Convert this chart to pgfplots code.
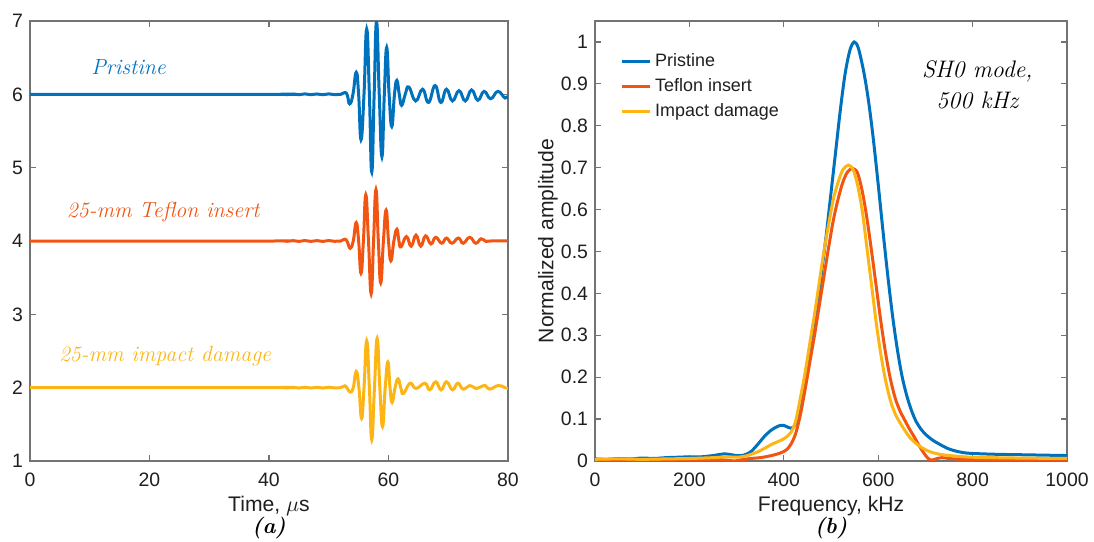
\documentclass[border=0pt]{standalone}
\usepackage{fontspec}
\usepackage{pgfplots}
\pgfplotsset{compat=1.18}
\newfontfamily\arial{Liberation Sans}
\definecolor{cB}{HTML}{0072BD}
\definecolor{cO}{HTML}{F25511}
\definecolor{cY}{HTML}{FDB515}
\definecolor{axg}{gray}{0.45}
\definecolor{tkc}{gray}{0.12}
\pgfplotsset{mstyle/.style={
  scale only axis,
  axis line style={axg, line width=0.6bp},
  tick style={axg, line width=0.6bp},
  tick align=inside, major tick length=3bp,
  ticklabel style={font=\arial\fontsize{9.75}{11}\selectfont, text=tkc},
  xticklabel style={yshift=-2.5bp},
  /pgf/number format/assume math mode=true,
  /pgf/number format/1000 sep={},
  label style={font=\arial\fontsize{10.6}{12}\selectfont, text=tkc},
}}
\begin{document}
\begin{tikzpicture}
\useasboundingbox (0,0) rectangle (547bp,271bp);
% ---------------- (a) ----------------
\begin{axis}[mstyle, name=L, at={(15bp,40.5bp)}, anchor=south west,
  width=239bp, height=220bp, xmin=0, xmax=80, ymin=1, ymax=7,
  xtick={0,20,40,60,80}, ytick={1,2,3,4,5,6,7},
  every axis plot/.append style={line width=1.5bp, smooth, tension=0.8},
  xlabel={Time, $\mu$s},
  xlabel style={at={(axis description cs:0.5,-0.103)}, anchor=center, inner sep=0pt}]
\addplot[cB] coordinates {
(0,6) (40,6) (42,6.003) (43,5.996) (44,6.005) (45,5.995) (46,6.006) (47,5.995)
(48,6.005) (49,5.995) (50,6.006) (51,5.996) (52.0,6.0) (52.7,6.025) (53.1,5.99)
(53.5,5.87) (54.05,6.0) (54.6,6.30) (55.0,6.0) (55.4,5.38) (55.9,6.0) (56.35,6.89)
(56.8,6.0) (57.2,4.94) (57.6,6.0) (58.0,6.99) (58.45,6.0) (58.9,5.15) (59.3,6.0)
(59.7,6.64) (60.1,6.0) (60.55,5.56) (61.0,6.0) (61.4,6.19) (61.8,6.0) (62.2,5.85)
(62.8,6.0) (63.4,6.10) (64.55,5.91) (65.7,6.07) (66.7,5.89) (67.8,6.12) (68.75,5.89)
(69.7,6.07) (70.7,5.91) (71.8,6.05) (72.85,5.91) (73.9,6.06) (74.95,5.92) (76.0,6.04)
(77.1,5.94) (78.3,6.04) (79.5,5.95) (80,5.98)};
\addplot[cO] coordinates {
(0,4) (40,4) (42,4.003) (43,3.996) (44,4.005) (45,3.995) (46,4.006) (47,3.995)
(48,4.005) (49,3.995) (50,4.006) (51,3.996) (52,4.0) (52.7,4.025) (53.1,3.99)
(53.6,3.90) (54.1,4.0) (54.6,4.25) (55.0,4.0) (55.4,3.56) (55.8,4.0) (56.2,4.63)
(56.65,4.0) (57.1,3.28) (57.5,4.0) (57.9,4.70) (58.3,4.0) (58.7,3.43) (59.15,4.0)
(59.6,4.42) (60.0,4.0) (60.4,3.73) (60.9,4.0) (61.4,4.16) (61.75,4.0) (62.1,3.92)
(63.0,4.06) (63.8,3.93) (64.6,4.08) (65.4,3.93) (66.2,4.07) (67.1,3.96) (67.9,4.05)
(68.9,3.97) (69.7,4.04) (70.6,3.97) (71.7,4.04) (72.5,3.97) (73.6,4.05) (74.6,3.97)
(75.5,4.03) (76.3,3.995) (77,4.0) (80,4.0)};
\addplot[cY] coordinates {
(0,2) (40,2) (42,2.003) (43,1.996) (44,2.005) (45,1.995) (46,2.006) (47,1.995)
(48,2.005) (49,1.995) (50,2.006) (51,1.996) (52,2.0) (52.7,2.025) (53.1,1.99)
(53.6,1.94) (54.1,2.0) (54.6,2.22) (55.05,2.0) (55.5,1.58) (55.9,2.0) (56.35,2.64)
(56.8,2.0) (57.2,1.29) (57.65,2.0) (58.1,2.67) (58.55,2.0) (59.0,1.47) (59.45,2.0)
(59.9,2.35) (60.25,2.0) (60.6,1.80) (61.1,2.0) (61.6,2.12) (62.05,2.0) (62.5,1.92)
(63.6,2.06) (64.6,1.99) (66.1,2.06) (66.9,1.97) (67.9,2.08) (68.8,1.97) (69.7,2.08)
(70.7,1.97) (71.6,2.06) (72.5,1.98) (73.6,2.03) (74.6,1.99) (75.4,2.01) (76.2,2.03)
(76.9,1.98) (78.4,2.03) (79.5,2.0) (80,1.99)};
\node[text=cB, font=\fontsize{11}{13}\selectfont\itshape] at (axis cs:16.5,6.37) {Pristine};
\node[text=cO, font=\fontsize{11}{13}\selectfont\itshape] at (axis cs:22.3,4.40) {25-mm Teflon insert};
\node[text=cY, font=\fontsize{11}{13}\selectfont\itshape] at (axis cs:22.6,2.43) {25-mm impact damage};
\end{axis}
\node[font=\fontsize{11}{13}\selectfont\bfseries\itshape, inner sep=0pt] at ([yshift=-33.5bp]L.south) {(a)};
% ---------------- (b) ----------------
\begin{axis}[mstyle, name=R, at={(297.5bp,40.5bp)}, anchor=south west,
  width=236bp, height=220bp, xmin=0, xmax=1000, ymin=0, ymax=1.05,
  xtick={0,200,400,600,800,1000},
  ytick={0,0.1,0.2,0.3,0.4,0.5,0.6,0.7,0.8,0.9,1},
  every axis plot/.append style={line width=1.5bp, smooth, tension=0.5},
  xlabel={Frequency, kHz}, ylabel={Normalized amplitude},
  xlabel style={at={(axis description cs:0.5,-0.103)}, anchor=center, inner sep=0pt},
  ylabel style={at={(axis description cs:-0.0996,0.5)}, anchor=center},
  legend cell align=left,
  legend style={draw=none, fill=none, at={(0.04,0.945)}, anchor=north west,
    font=\arial\fontsize{9}{10.8}\selectfont, text=tkc, row sep=0.5bp},
  legend image code/.code={\draw[#1, line width=1.5bp] (0bp,0bp) -- (14bp,0bp);}]
\addplot[cB] coordinates {
(0,0.005) (25,0.004) (50,0.006) (75,0.005) (100,0.007) (125,0.006) (150,0.008)
(175,0.009) (200,0.010) (225,0.010) (250,0.013) (275,0.017) (300,0.013) (315,0.014)
(330,0.022) (345,0.040) (360,0.060) (375,0.075) (390,0.084) (400,0.085) (410,0.080)
(420,0.080) (430,0.105) (440,0.155) (450,0.215) (460,0.285) (470,0.36) (480,0.45)
(490,0.54) (500,0.64) (510,0.74) (520,0.84) (530,0.925) (540,0.98) (549,1.0)
(558,0.985) (570,0.925) (580,0.855) (590,0.765) (600,0.66) (610,0.55) (620,0.445)
(630,0.35) (640,0.27) (650,0.205) (660,0.158) (670,0.122) (680,0.095) (690,0.077)
(700,0.064) (715,0.050) (730,0.040) (745,0.031) (760,0.025) (780,0.020) (800,0.018)
(850,0.016) (900,0.015) (950,0.014) (1000,0.013)};
\addlegendentry{Pristine}
\addplot[cO] coordinates {
(0,0.003) (50,0.003) (100,0.004) (150,0.003) (200,0.004) (250,0.004) (280,0.002)
(295,0.0) (310,0.003) (330,0.006) (350,0.008) (370,0.012) (390,0.018) (405,0.026)
(415,0.04) (425,0.065) (435,0.11) (445,0.17) (455,0.235) (465,0.30) (475,0.37)
(485,0.44) (495,0.51) (505,0.575) (515,0.625) (525,0.665) (535,0.69) (546,0.698)
(556,0.688) (566,0.645) (576,0.58) (586,0.50) (596,0.415) (606,0.33) (616,0.255)
(626,0.195) (636,0.150) (646,0.120) (656,0.098) (666,0.077) (676,0.058) (686,0.038)
(696,0.020) (705,0.007) (713,0.002) (722,0.005) (735,0.008) (750,0.006) (780,0.004)
(850,0.004) (1000,0.004)};
\addlegendentry{Teflon insert}
\addplot[cY] coordinates {
(0,0.004) (50,0.005) (100,0.004) (150,0.005) (200,0.006) (250,0.008) (280,0.010)
(300,0.009) (320,0.012) (347,0.023) (375,0.040) (400,0.053) (415,0.068) (425,0.095)
(435,0.15) (445,0.21) (455,0.28) (465,0.35) (475,0.425) (485,0.50) (495,0.565)
(505,0.625) (515,0.665) (525,0.695) (537,0.706) (547,0.695) (557,0.655) (567,0.59)
(577,0.50) (587,0.41) (597,0.32) (607,0.245) (617,0.185) (627,0.14) (637,0.11)
(647,0.09) (657,0.072) (667,0.056) (680,0.042) (695,0.030) (710,0.022) (730,0.016)
(760,0.012) (800,0.009) (900,0.007) (1000,0.006)};
\addlegendentry{Impact damage}
\node[font=\fontsize{12}{16}\selectfont\itshape, align=center] at (rel axis cs:0.81,0.855) {SH0 mode,\\500 kHz};
\end{axis}
\node[font=\fontsize{11}{13}\selectfont\bfseries\itshape, inner sep=0pt] at ([yshift=-33.5bp]R.south) {(b)};
\end{tikzpicture}
\end{document}
